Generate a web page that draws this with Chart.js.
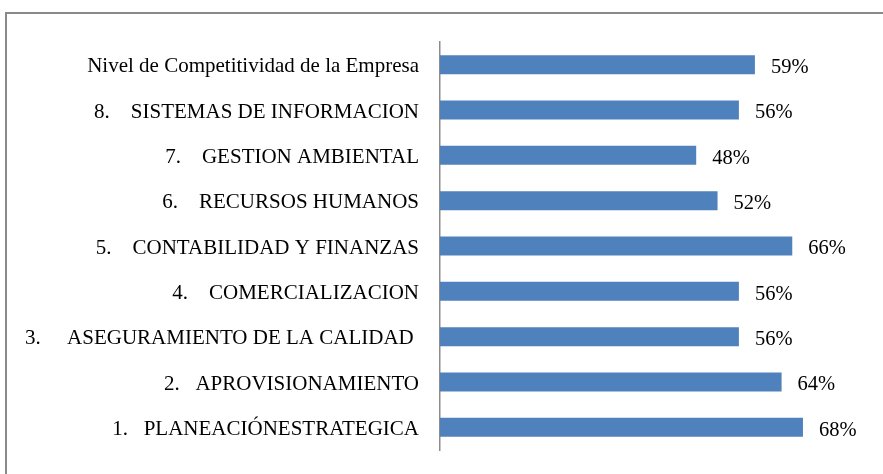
<!DOCTYPE html>
<html>
<head>
<meta charset="utf-8">
<script src="https://cdn.jsdelivr.net/npm/chart.js@4"></script>
<style>
    body { margin: 0; background: #ffffff; }
    #marco { position: absolute; left: 5px; top: 12px; width: 900px; height: 500px; border: 2px solid #8a8a8a; }
    #contenedor { position: absolute; left: 0; top: 0; width: 883px; height: 474px; }
</style>
</head>
<body>
<div id="marco"></div>
<div id="contenedor"><canvas id="myChart"></canvas></div>
<script>
const areas = [
    "Nivel de Competitividad de la Empresa",
    "8.    SISTEMAS DE INFORMACION",
    "7.    GESTION AMBIENTAL",
    "6.    RECURSOS HUMANOS",
    "5.    CONTABILIDAD Y FINANZAS",
    "4.    COMERCIALIZACION",
    "3.     ASEGURAMIENTO DE LA CALIDAD ",
    "2.   APROVISIONAMIENTO",
    "1.   PLANEACIÓNESTRATEGICA"
];
const porcentajes = [59, 56, 48, 52, 66, 56, 56, 64, 68];
const etiquetas = ["59%", "56%", "48%", "52%", "66%", "56%", "56%", "64%", "68%"];

const graphic = document.getElementById("myChart").getContext("2d");

// escribe el porcentaje a la derecha de cada barra
const etiquetasPlugin = {
    id: "etiquetasValor",
    afterDatasetsDraw(chart) {
        const ctx = chart.ctx;
        const meta = chart.getDatasetMeta(0);
        ctx.save();
        ctx.font = "20.5px 'Liberation Serif'";
        ctx.fillStyle = "#000000";
        ctx.textBaseline = "middle";
        ctx.textAlign = "left";
        meta.data.forEach((bar, i) => {
            ctx.fillText(etiquetas[i], bar.x + 16, bar.y + 3);
        });
        ctx.restore();
    }
};

const arrGraphics = {
    type: "bar",
    data: {
        labels: areas,
        datasets: [{
            data: porcentajes,
            backgroundColor: "#4f81bd",
            borderWidth: 0,
            barPercentage: 0.42,
            categoryPercentage: 1
        }]
    },
    options: {
        indexAxis: "y",
        responsive: true,
        maintainAspectRatio: false,
        animation: false,
        layout: { padding: { top: 42, bottom: 24, left: 0, right: 16 } },
        plugins: {
            legend: { display: false },
            tooltip: { enabled: false }
        },
        scales: {
            x: {
                display: false,
                min: 0,
                max: 80
            },
            y: {
                afterFit(scale) {
                    scale.width = 440;
                    scale.paddingTop = 0;
                    scale.paddingBottom = 0;
                },
                grid: { display: false, drawTicks: false },
                border: { display: true, color: "#8c8c8c", width: 1.5 },
                ticks: {
                    padding: 21,
                    labelOffset: 2,
                    color: "#000000",
                    font: { family: "'Liberation Serif'", size: 21 }
                }
            }
        }
    },
    plugins: [etiquetasPlugin]
};

window.graphic = new Chart(graphic, arrGraphics);
</script>
</body>
</html>
